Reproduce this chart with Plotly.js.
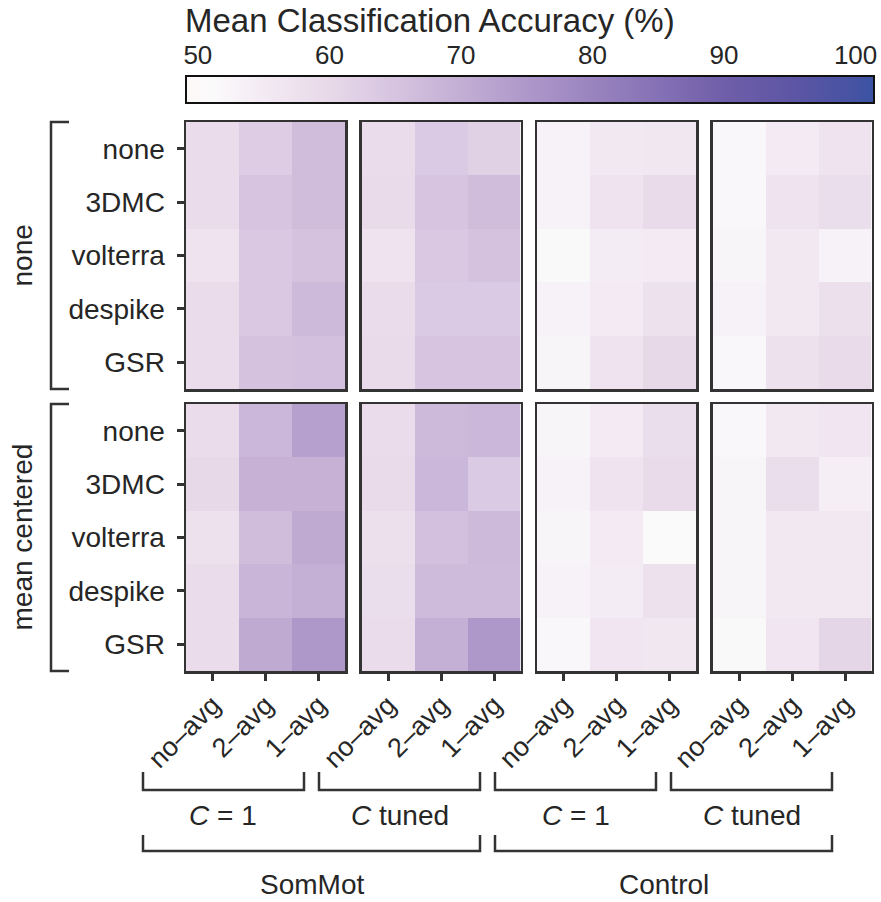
<!DOCTYPE html>
<html>
<head>
<meta charset="utf-8">
<script src="https://cdn.plot.ly/plotly-3.0.1.min.js"></script>
<style>html,body{margin:0;padding:0;background:#fff;}</style>
</head>
<body>
<div id="chart" style="width:881px;height:902px;"></div>
<script>
// Category labels
const averaging = ['no–avg', '2–avg', '1–avg'];
const denoising = ['none', '3DMC', 'volterra', 'despike', 'GSR'];
const rowGroups = ['none', 'mean centered'];
const cSettings = ['<i>C</i> = 1', '<i>C</i> tuned', '<i>C</i> = 1', '<i>C</i> tuned'];
const networks = ['SomMot', 'Control'];
const colorbarTicks = [50, 60, 70, 80, 90, 100];

// Mean classification accuracy (%), rows = denoising, columns = averaging
// Row group "none"
const somMotC1None = [
  [59, 63, 66.5],
  [59, 65, 66.5],
  [57, 64, 65.5],
  [59, 64, 67.5],
  [59, 65.5, 66]
];
const somMotTunedNone = [
  [59, 63.5, 62],
  [59.5, 65, 66.5],
  [57, 64, 65.5],
  [59, 63.5, 63.5],
  [59.5, 65, 65]
];
const controlC1None = [
  [53, 55.5, 56],
  [53, 57, 59.5],
  [51.5, 54.5, 55],
  [53, 55, 57.5],
  [52.5, 57, 60]
];
const controlTunedNone = [
  [52, 55, 57],
  [52, 57, 58.5],
  [52.5, 55.5, 53],
  [53, 55.5, 58],
  [52, 57.5, 59.5]
];
// Row group "mean centered"
const somMotC1Centered = [
  [59, 68, 73],
  [60, 69, 69],
  [57.5, 66.5, 71],
  [59, 68.5, 69.5],
  [59, 71, 75]
];
const somMotTunedCentered = [
  [59, 67.5, 68],
  [59.5, 68, 63.5],
  [58, 66, 67.5],
  [58.5, 67, 67],
  [59, 69.5, 75]
];
const controlC1Centered = [
  [52.5, 55, 58.5],
  [53, 57, 59.5],
  [52.5, 55, 51],
  [53, 54.5, 57.5],
  [52, 56.5, 56]
];
const controlTunedCentered = [
  [52, 55.5, 56.5],
  [52.5, 58.5, 54],
  [52.5, 55.5, 55.5],
  [52.5, 55.5, 55.5],
  [51.5, 56.5, 61]
];

const panelData = [
  somMotC1None, somMotTunedNone, controlC1None, controlTunedNone,
  somMotC1Centered, somMotTunedCentered, controlC1Centered, controlTunedCentered
];

// ---- Geometry (pixels) and styling ----
const W = 881, H = 902;
const px = x => x / W;
const py = y => 1 - y / H;
const FONT = '"Liberation Sans", Arial, Helvetica, sans-serif';
const INK = '#262626';
const LINE = '#333333';

const colLeft = [186, 361.5, 537, 712.5];
const panelW = 159;
const rowTop = [122, 404];
const panelH = 267;

const cbLeft = 186, cbRight = 874, cbTop = 76, cbBottom = 105;
const cMin = 49.1, cMax = 101.4;

const colorscale = [
  [0.000, '#fcf8f6'],
  [0.040, '#fbfafb'],
  [0.113, '#f3eaf3'],
  [0.208, '#e8d9e9'],
  [0.304, '#d6c4e0'],
  [0.400, '#c3aed4'],
  [0.495, '#ae98ca'],
  [0.591, '#9a84bf'],
  [0.686, '#8571b5'],
  [0.782, '#6f5ea9'],
  [0.878, '#5e56a4'],
  [0.973, '#4553a3'],
  [1.000, '#3a53a3']
];

const data = [];
const layout = {
  width: W, height: H,
  margin: {l: 0, r: 0, t: 0, b: 0, pad: 0},
  paper_bgcolor: '#ffffff',
  plot_bgcolor: '#ffffff',
  font: {family: FONT, color: INK, size: 28},
  showlegend: false,
  coloraxis: {
    cmin: cMin, cmax: cMax,
    colorscale: colorscale,
    colorbar: {
      orientation: 'h',
      x: px(cbLeft), xanchor: 'left',
      len: (cbRight - cbLeft) / W, lenmode: 'fraction',
      y: py(cbTop), yanchor: 'top',
      thickness: cbBottom - cbTop - 2, thicknessmode: 'pixels',
      xpad: 0, ypad: 0,
      outlinewidth: 2, outlinecolor: '#111111',
      borderwidth: 0,
      ticks: '', showticklabels: false
    }
  },
  shapes: [],
  annotations: []
};

const yTickFont = {family: FONT, size: 28, color: INK};
const xTickFont = {family: FONT, size: 27, color: INK};

panelData.forEach((z, i) => {
  const r = Math.floor(i / 4), c = i % 4;
  const k = i === 0 ? '' : String(i + 1);
  data.push({
    type: 'heatmap',
    x: averaging,
    y: denoising,
    z: z,
    coloraxis: 'coloraxis',
    xaxis: 'x' + k,
    yaxis: 'y' + k,
    hoverinfo: 'skip'
  });
  layout['xaxis' + k] = {
    domain: [px(colLeft[c]), px(colLeft[c] + panelW)],
    anchor: 'y' + k,
    type: 'category',
    range: [-0.5, 2.5],
    showline: true, mirror: true, linewidth: 2.5, linecolor: LINE,
    showgrid: false, zeroline: false,
    ticks: r === 1 ? 'outside' : '',
    ticklen: 7, tickwidth: 3, tickcolor: LINE,
    showticklabels: r === 1,
    tickangle: -45,
    ticklabelstandoff: -2,
    tickfont: xTickFont,
    fixedrange: true
  };
  layout['yaxis' + k] = {
    domain: [py(rowTop[r] + panelH), py(rowTop[r])],
    anchor: 'x' + k,
    type: 'category',
    range: [4.5, -0.5],
    showline: true, mirror: true, linewidth: 2.5, linecolor: LINE,
    showgrid: false, zeroline: false,
    ticks: c === 0 ? 'outside' : '',
    ticklen: 7, tickwidth: 3, tickcolor: LINE,
    showticklabels: c === 0,
    ticklabelstandoff: 6,
    tickfont: yTickFont,
    fixedrange: true
  };
});

// Tick labels for the colour bar, drawn on an axis laid over it
layout.xaxis9 = {
  domain: [px(cbLeft), px(cbRight)],
  anchor: 'y9',
  side: 'top',
  range: [cMin, cMax],
  tickvals: colorbarTicks,
  ticktext: colorbarTicks.map(String),
  ticks: '', showline: false, showgrid: false, zeroline: false,
  ticklabelstandoff: 6,
  tickfont: {family: FONT, size: 26, color: INK},
  fixedrange: true
};
layout.yaxis9 = {
  domain: [py(cbBottom), py(cbTop)],
  anchor: 'x9',
  visible: false,
  fixedrange: true
};
data.push({type: 'scatter', x: [], y: [], xaxis: 'x9', yaxis: 'y9', hoverinfo: 'skip'});

// Colour bar title
layout.annotations.push({
  text: 'Mean Classification Accuracy (%)',
  xref: 'paper', yref: 'paper',
  x: px(cbLeft - 3), y: py(20),
  xanchor: 'left', yanchor: 'middle',
  showarrow: false,
  font: {family: FONT, size: 33, color: INK}
});

// Brackets and labels for the row groups
const lineStyle = {color: LINE, width: 2.5};
const bracketX = 51, bracketArm = 69;
rowGroups.forEach((label, r) => {
  const t = rowTop[r], b = rowTop[r] + panelH;
  layout.shapes.push({
    type: 'path', xref: 'paper', yref: 'paper', line: lineStyle,
    path: `M ${px(bracketArm)},${py(t)} L ${px(bracketX)},${py(t)} L ${px(bracketX)},${py(b)} L ${px(bracketArm)},${py(b)}`
  });
  layout.annotations.push({
    text: label, textangle: -90,
    xref: 'paper', yref: 'paper',
    x: px(22), y: py((t + b) / 2),
    xanchor: 'center', yanchor: 'middle',
    showarrow: false,
    font: {family: FONT, size: 28, color: INK}
  });
});

// Brackets under each panel (C setting)
const smallLeft = [143, 319, 495, 671];
const smallW = 161;
const smallTop = 772, smallBottom = 790, smallLabelY = 815;
cSettings.forEach((label, c) => {
  const l = smallLeft[c], rr = smallLeft[c] + smallW;
  layout.shapes.push({
    type: 'path', xref: 'paper', yref: 'paper', line: lineStyle,
    path: `M ${px(l)},${py(smallTop)} L ${px(l)},${py(smallBottom)} L ${px(rr)},${py(smallBottom)} L ${px(rr)},${py(smallTop)}`
  });
  layout.annotations.push({
    text: label, xref: 'paper', yref: 'paper',
    x: px((l + rr) / 2), y: py(smallLabelY),
    xanchor: 'center', yanchor: 'middle', showarrow: false,
    font: {family: FONT, size: 28, color: INK}
  });
});

// Brackets under each network
const bigTop = 835, bigBottom = 851, bigLabelY = 884;
networks.forEach((label, n) => {
  const l = smallLeft[2 * n], rr = smallLeft[2 * n + 1] + smallW;
  layout.shapes.push({
    type: 'path', xref: 'paper', yref: 'paper', line: lineStyle,
    path: `M ${px(l)},${py(bigTop)} L ${px(l)},${py(bigBottom)} L ${px(rr)},${py(bigBottom)} L ${px(rr)},${py(bigTop)}`
  });
  layout.annotations.push({
    text: label, xref: 'paper', yref: 'paper',
    x: px((l + rr) / 2), y: py(bigLabelY),
    xanchor: 'center', yanchor: 'middle', showarrow: false,
    font: {family: FONT, size: 28, color: INK}
  });
});

Plotly.newPlot('chart', data, layout, {displayModeBar: false, staticPlot: true});
</script>
</body>
</html>
